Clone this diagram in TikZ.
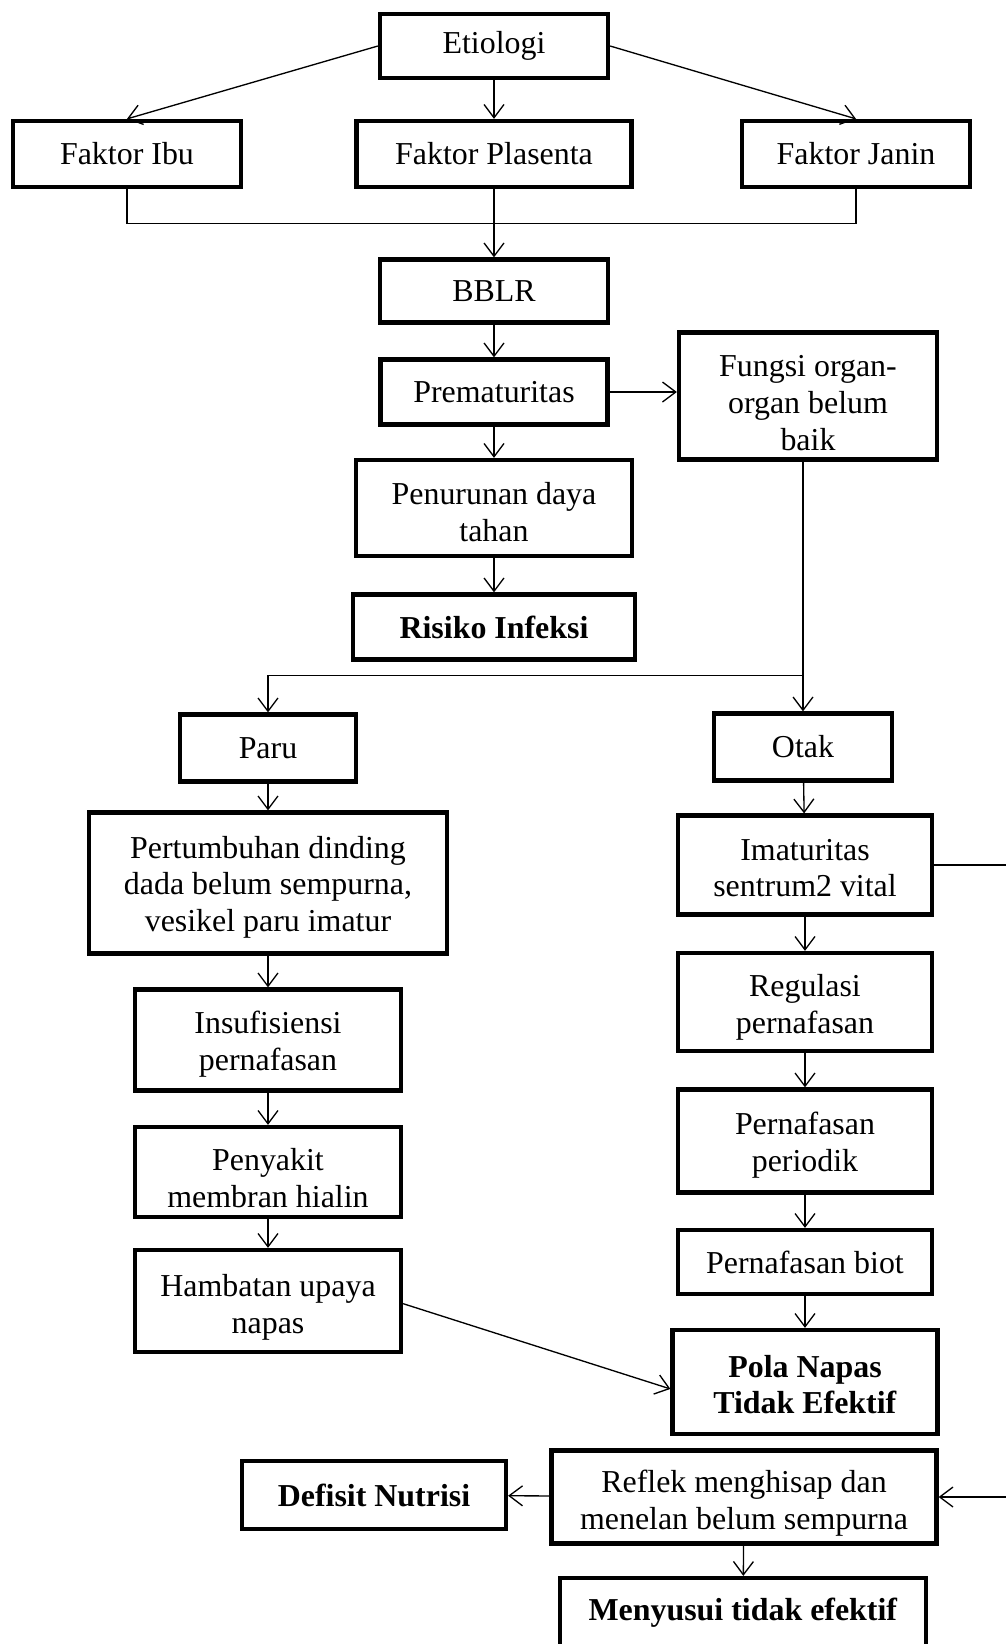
\documentclass[tikz,border=0pt]{standalone}
\usepackage{fontspec}
\setmainfont{Liberation Serif}
\usetikzlibrary{arrows.meta}
\begin{document}
\begin{tikzpicture}[x = 0.376pt, y = -0.376pt,
        blok/.style 2 args = {draw, line width = 1.6pt, minimum width = #1*0.376pt, minimum height = #2*0.376pt, inner sep = 0pt, align = center, font = \fontsize{12}{13.8}\selectfont},
        baris/.style = {text depth = 0pt, text height = #1},
        arr/.style = {line width = 0.5pt, -{Straight Barb[length = 5pt, width = 7.5pt]}}]
    \useasboundingbox (0, 0) rectangle (1005, 1644);
    % top: causes
    \node[blok = {228}{64}] (etio) at (494, 46) {Etiologi};
    \node[blok = {228}{66}] (ibu) at (127, 154) {Faktor Ibu};
    \node[blok = {275}{66}] (plasenta) at (494, 154) {Faktor Plasenta};
    \node[blok = {228}{66}] (janin) at (856, 154) {Faktor Janin};
    \node[blok = {228}{63}] (bblr) at (494, 291) {BBLR};
    \node[blok = {227}{65}] (prema) at (494, 392) {Prematuritas};
    \node[blok = {258}{127}, baris = 40.6pt] (fungsi) at (808, 396) {Fungsi organ-\\organ belum\\baik};
    \node[blok = {276}{96}, baris = 25.2pt] (daya) at (494, 508) {Penurunan daya\\tahan};
    \node[blok = {282}{65}] (infeksi) at (494, 627) {\textbf{Risiko Infeksi}};
    % left column: lungs
    \node[blok = {176}{67}] (paru) at (268, 748) {Paru};
    \node[blok = {358}{141}, baris = 36.4pt] (tumbuh) at (268, 883) {Pertumbuhan dinding\\dada belum sempurna,\\vesikel paru imatur};
    \node[blok = {266}{101}, baris = 22.6pt] (insuf) at (268, 1040) {Insufisiensi\\pernafasan};
    \node[blok = {266}{90}, baris = 26.8pt] (hialin) at (268, 1172) {Penyakit\\membran hialin};
    \node[blok = {266}{102}, baris = 24.2pt] (hambat) at (268, 1301) {Hambatan upaya\\napas};
    % right column: brain
    \node[blok = {178}{67}] (otak) at (803, 747) {Otak};
    \node[blok = {254}{99}, baris = 24pt] (imatur) at (805, 865) {Imaturitas\\sentrum2 vital};
    \node[blok = {254}{98}, baris = 23.4pt] (regulasi) at (805, 1002) {Regulasi\\pernafasan};
    \node[blok = {254}{103}, baris = 22.6pt] (periodik) at (805, 1141) {Pernafasan\\periodik};
    \node[blok = {254}{64}] (biot) at (805, 1262) {Pernafasan biot};
    \node[blok = {265}{104}, baris = 24pt] (pola) at (805, 1382) {\textbf{Pola Napas}\\\textbf{Tidak Efektif}};
    % bottom
    \node[blok = {385}{93}, baris = 24.2pt] (reflek) at (744, 1497) {Reflek menghisap dan\\menelan belum sempurna};
    \node[blok = {264}{68}] (nutrisi) at (374, 1495) {\textbf{Defisit Nutrisi}};
    \node[blok = {366}{70}] (menyusui) at (743, 1613) {\textbf{Menyusui tidak efektif}};
    % arrows from the causes
    \draw[arr] (etio.west) -- (ibu.north);
    \draw[arr] (etio.east) -- (janin.north);
    \draw[arr] (etio) -- (plasenta);
    \draw (ibu.south) -- ++(0, 34) -| (janin.south);
    \draw[arr] (plasenta) -- (bblr);
    \draw[arr] (prema.east) -- (prema.east -| fungsi.west);
    % split to lungs and brain
    \path (otak.north) ++(0, -36) coordinate (cabang);
    \draw[arr] (fungsi.south -| otak.north) -- (otak.north);
    \draw[arr] (cabang) -| (paru.north);
    \foreach \a/\b in {bblr/prema, prema/daya, daya/infeksi, paru/tumbuh, tumbuh/insuf, insuf/hialin, hialin/hambat, otak/imatur, imatur/regulasi, regulasi/periodik, periodik/biot, biot/pola, reflek/menyusui}{
        \draw[arr] (\a) -- (\b);
    }
    \draw[arr] ([yshift = -1pt]hambat.east) -- ([yshift = -2.6pt]pola.west);
    \draw[arr] (reflek) -- (nutrisi);
    % right edge: runs off the page
    \draw[arr] (imatur.east) -- ++(120, 0) |- (reflek.east);
\end{tikzpicture}
\end{document}
